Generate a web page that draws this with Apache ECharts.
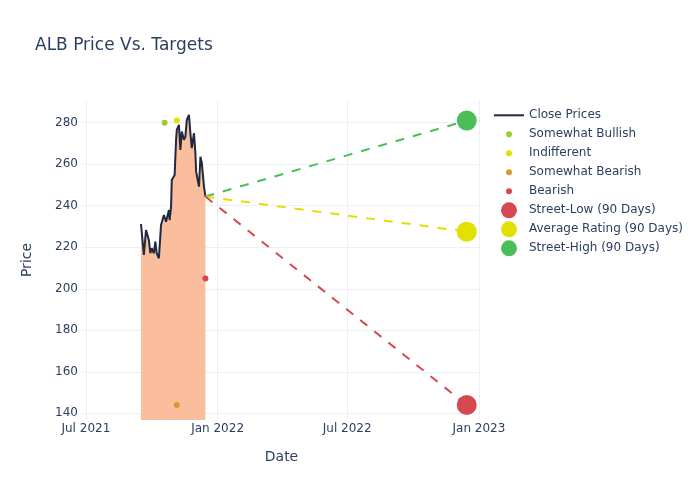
<!DOCTYPE html>
<html>
<head>
<meta charset="utf-8">
<script src="https://cdn.jsdelivr.net/npm/echarts@6/dist/echarts.min.js"></script>
<style>html,body{margin:0;padding:0;background:#fff}#c{width:700px;height:500px}</style>
</head>
<body>
<div id="c"></div>
<script>
// ---- data ----
const closeDates = ['2021-09-16','2021-09-20','2021-09-23','2021-09-27','2021-09-29','2021-10-01','2021-10-04','2021-10-06','2021-10-08','2021-10-11','2021-10-14','2021-10-18','2021-10-21','2021-10-25','2021-10-26','2021-10-28','2021-10-29','2021-11-02','2021-11-04','2021-11-05','2021-11-08','2021-11-10','2021-11-12','2021-11-15','2021-11-17','2021-11-19','2021-11-22','2021-11-24','2021-11-26','2021-11-29','2021-12-01','2021-12-02','2021-12-06','2021-12-08','2021-12-10','2021-12-13','2021-12-15'];
const closePrices = [231.2,216.3,228.3,223.5,217.1,219.5,217.1,222.7,217.1,214.7,230.7,235.5,232.3,237.9,233.1,239.5,252.4,254.8,271.7,276.5,278.9,266.8,275.7,271.7,273.3,281.3,283.7,274.9,267.7,274.9,265.3,256.4,249.2,263.6,260.4,249.2,244.4];

const somewhatBullishDates = ['2021-10-19'];
const somewhatBullishTargets = [280];
const indifferentDates = ['2021-11-05'];
const indifferentTargets = [281];
const somewhatBearishDates = ['2021-11-05'];
const somewhatBearishTargets = [144];
const bearishDates = ['2021-12-15'];
const bearishTargets = [205];

const streetDate = '2022-12-15';
const streetLow = 144;
const streetAvg = 227.5;
const streetHigh = 281;

const xTickDates = ['2021-07-01','2022-01-01','2022-07-01','2023-01-01'];
const monthNames = ['Jan','Feb','Mar','Apr','May','Jun','Jul','Aug','Sep','Oct','Nov','Dec'];

// ---- helpers ----
const t = s => new Date(s + 'T00:00:00Z').getTime();
const pairs = (d, v) => d.map((x, i) => [t(x), v[i]]);
const lastDate = closeDates[closeDates.length - 1];
const lastPrice = closePrices[closePrices.length - 1];

const C = {
  text: '#2a3f5f', grid: '#ebf0f8', close: '#1f2940', fill: '#fbbe9c',
  sbull: '#9acd32', indiff: '#e1e000', sbear: '#dc9632', bear: '#d6484f',
  low: '#d6484f', avg: '#e1e000', high: '#4cbe58'
};
const FONT = 'DejaVu Sans';
const xTicks = xTickDates.map(t);

const dashLine = (name, target, color) => ({
  name, type: 'line', data: [[t(lastDate), lastPrice], [t(streetDate), target]],
  showSymbol: false, symbol: 'none', silent: true,
  lineStyle: { color, width: 2, type: [9, 9] }, z: 3
});
const dots = (name, d, v, color, size, z) => ({
  name, type: 'scatter', data: pairs(d, v), symbol: 'circle', symbolSize: size,
  itemStyle: { color, opacity: 1 }, z: z || 4
});

const legendBase = {
  orient: 'vertical', padding: 0, itemGap: 0, itemWidth: 30,
  textStyle: { color: C.text, fontSize: 12, fontFamily: FONT, lineHeight: 19 }
};

const option = {
  animation: false,
  textStyle: { fontFamily: FONT },
  title: {
    text: 'ALB Price Vs. Targets', left: 35, top: 37, padding: 0,
    textStyle: { color: C.text, fontSize: 17, fontWeight: 'normal', fontFamily: FONT }
  },
  legend: [
    Object.assign({}, legendBase, { left: 494, top: 105.8, itemHeight: 2,
      data: [{ name: 'Close Prices', icon: 'rect' }] }),
    Object.assign({}, legendBase, { left: 506, top: 124.8, itemHeight: 6,
      data: ['Somewhat Bullish', 'Indifferent', 'Somewhat Bearish', 'Bearish'].map(n => ({ name: n, icon: 'circle' })) }),
    Object.assign({}, legendBase, { left: 501, top: 200.8, itemHeight: 16,
      data: ['Street-Low (90 Days)', 'Average Rating (90 Days)', 'Street-High (90 Days)'].map(n => ({ name: n, icon: 'circle' })) })
  ],
  grid: { left: 83, right: 220, top: 100, bottom: 80, containLabel: false },
  xAxis: {
    type: 'value', min: t('2021-06-27'), max: t('2023-01-02') + 12 * 3600 * 1000,
    name: 'Date', nameLocation: 'middle', nameGap: 30,
    nameTextStyle: { color: C.text, fontSize: 14, fontFamily: FONT },
    axisLine: { show: false }, axisTick: { show: false, customValues: xTicks },
    axisLabel: {
      customValues: xTicks, color: C.text, fontSize: 12, fontFamily: FONT, margin: 3,
      formatter: v => { const d = new Date(v); return monthNames[d.getUTCMonth()] + ' ' + d.getUTCFullYear(); }
    },
    splitLine: { show: true, lineStyle: { color: C.grid, width: 1 } }
  },
  yAxis: {
    type: 'value', min: 136.8, max: 290.9, splitNumber: 8,
    name: 'Price', nameLocation: 'middle', nameGap: 49,
    nameTextStyle: { color: C.text, fontSize: 14, fontFamily: FONT },
    axisLine: { show: false }, axisTick: { show: false },
    axisLabel: { color: C.text, fontSize: 12, fontFamily: FONT, margin: 5, showMinLabel: false, showMaxLabel: false },
    splitLine: { show: true, showMinLine: false, showMaxLine: false, lineStyle: { color: C.grid, width: 1 } }
  },
  series: [
    {
      name: 'Close Prices', type: 'line', data: pairs(closeDates, closePrices),
      showSymbol: false, symbol: 'none', color: C.close,
      lineStyle: { color: C.close, width: 2 },
      areaStyle: { color: C.fill, opacity: 1, origin: 'start' }, z: 2
    },
    dashLine('high-line', streetHigh, C.high),
    dashLine('avg-line', streetAvg, C.avg),
    dashLine('low-line', streetLow, C.low),
    dots('Somewhat Bullish', somewhatBullishDates, somewhatBullishTargets, C.sbull, 6),
    dots('Indifferent', indifferentDates, indifferentTargets, C.indiff, 6),
    dots('Somewhat Bearish', somewhatBearishDates, somewhatBearishTargets, C.sbear, 6),
    dots('Bearish', bearishDates, bearishTargets, C.bear, 6),
    dots('Street-Low (90 Days)', [streetDate], [streetLow], C.low, 20, 5),
    dots('Average Rating (90 Days)', [streetDate], [streetAvg], C.avg, 20, 5),
    dots('Street-High (90 Days)', [streetDate], [streetHigh], C.high, 20, 5)
  ]
};
echarts.init(document.getElementById('c'), null, { renderer: 'canvas' }).setOption(option);
</script>
</body>
</html>
